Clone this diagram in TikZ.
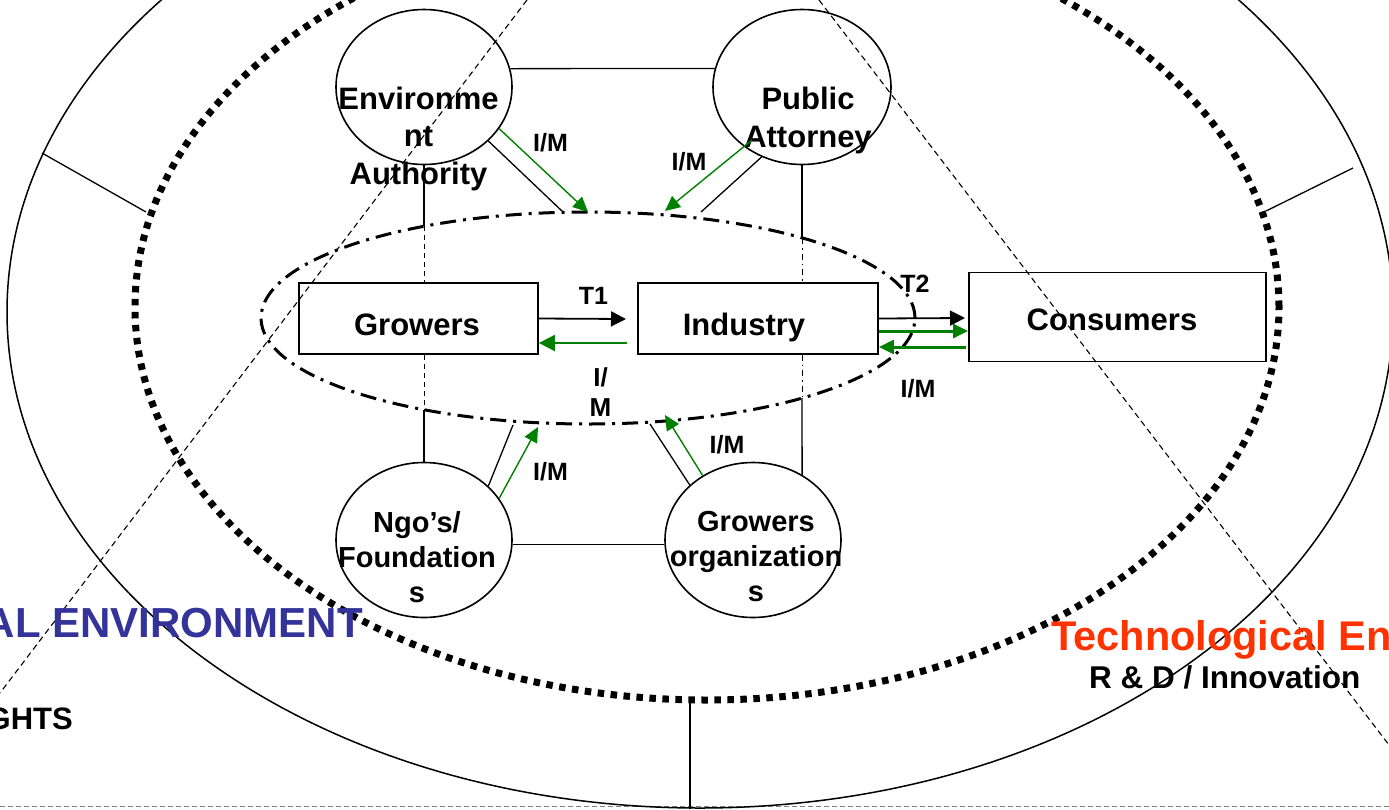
\documentclass[tikz,border=0pt]{standalone}
\usepackage{fontspec}
\setmainfont{Liberation Sans}
\usetikzlibrary{shapes.geometric,arrows.meta}
\definecolor{grn}{RGB}{0,128,0}
\definecolor{blu}{RGB}{51,51,153}
\definecolor{orn}{RGB}{255,51,0}
\begin{document}
\begin{tikzpicture}[x=1pt,y=-1pt,
  boxnode/.style={draw, line width=1.8pt, rectangle, inner sep=0pt},
  orb/.style={draw, ellipse, line width=1.6pt, inner sep=0pt, minimum width=176pt, minimum height=155pt},
  mainlbl/.style={font=\bfseries\fontsize{31}{37.5}\selectfont, inner sep=0pt, align=center},
  orblbl/.style={font=\bfseries\fontsize{29}{35}\selectfont, inner sep=0pt, align=center},
  smalllbl/.style={font=\bfseries\fontsize{25}{30}\selectfont, inner sep=0pt, align=center},
  thinline/.style={line width=1.3pt},
  garrow/.style={draw=grn, line width=1.4pt, -{Triangle[length=15pt,width=14pt]}},
  gthick/.style={draw=grn, line width=3pt, -{Triangle[length=15pt,width=14pt]}},
  barrow/.style={draw=black, line width=1.8pt, -{Triangle[length=15pt,width=15pt]}},
  diag/.style={line width=1.1pt, dash pattern=on 6pt off 4pt},
]
\useasboundingbox (0,0) rectangle (1389,809);
\clip (0,0) rectangle (1389,809);

% background lines
\draw[diag] (527,0) -- (0,693);
\draw[diag] (819,0) -- (1389,745);
\draw[line width=1pt, dash pattern=on 5pt off 3pt, gray] (0,806) -- (1389,806);

% outer ellipse and ticks
\draw[line width=1.5pt] (700,312) ellipse [x radius=693pt, y radius=496pt];
\coordinate (tL1) at (42,153);  \coordinate (tL2) at (146,212);
\coordinate (tR1) at (1353,168); \coordinate (tR2) at (1266,211);
\coordinate (tB1) at (690,703); \coordinate (tB2) at (690,809);
\draw[thinline] (tL1) -- (tL2);
\draw[thinline] (tR1) -- (tR2);
\draw[thinline] (tB1) -- (tB2);

% dotted ellipse
\draw[line width=7pt, dash pattern=on 6.5pt off 6.5pt] (707,307) ellipse [x radius=572pt, y radius=393pt];

% dash-dot ellipse
\draw[line width=3pt, dash pattern=on 16pt off 7pt on 3pt off 7pt] (588,318) ellipse [x radius=327pt, y radius=106pt];

% boxes
\node[boxnode, minimum width=239pt, minimum height=71pt] (Gr) at (418.5,318.5) {};
\node[boxnode, minimum width=240pt, minimum height=71pt] (Ind) at (758,318.5) {};
\node[boxnode, minimum width=297pt, minimum height=89pt] (Con) at (1117.5,317) {};
\node[mainlbl, anchor=base] (GrT) at (417,335) {Growers};
\node[mainlbl, anchor=base] (IndT) at (744,335) {Industry};
\node[mainlbl, anchor=base] (ConT) at (1112,330) {Consumers};

% circles
\node[orb] (EA) at (424,87) {};
\node[orb, minimum width=178pt] (PA) at (802,87) {};
\node[orb] (NGO) at (424,540) {};
\node[orb] (GO) at (753,540) {};
\node[mainlbl] (EAT) at (418.5,138.5) {Environme\\nt\\Authority};
\node[mainlbl] (PAT) at (808,120.7) {Public\\Attorney};
\node[orblbl] (NGOT) at (417,556.7) {Ngo’s/\\Foundation\\s};
\node[orblbl] (GOT) at (756,556.7) {Growers\\organization\\s};

% circle-circle links
\draw[thinline] (EA.12) -- (PA.168);
\draw[thinline] (NGO.-3) -- (GO.183);

% vertical links
\coordinate (eaIn) at (424,226);
\coordinate (ngIn) at (424,410);
\coordinate (paIn) at (802,238);
\coordinate (goIn) at (802,398);
\draw[thinline] (EA.south) -- (eaIn);
\draw[line width=1pt, dash pattern=on 5pt off 4pt] (eaIn) -- (eaIn |- Gr.north);
\draw[line width=1pt, dash pattern=on 5pt off 4pt] (Gr.south -| ngIn) -- (ngIn);
\draw[thinline] (ngIn) -- (NGO.north);
\draw[thinline] (PA.south) -- (paIn);
\draw[line width=1pt, dash pattern=on 6pt off 4pt on 1.5pt off 4pt] (paIn) -- (paIn |- Ind.north);
\draw[line width=1pt, dash pattern=on 6pt off 4pt on 1.5pt off 4pt] (Ind.south -| goIn) -- (goIn);
\draw[thinline] (goIn) -- (GO.53);

% diagonal pairs
\coordinate (eaB) at (563,212); \coordinate (eaG) at (588,212);
\coordinate (paG0) at (752,140); \coordinate (paG) at (665,211); \coordinate (paB) at (701,212);
\coordinate (ngB) at (513,425); \coordinate (ngG) at (538,427);
\coordinate (goB) at (650,424); \coordinate (goG) at (665,415);
\draw[thinline] (EA.-40) -- (eaB);
\draw[garrow] (EA.-29) -- (eaG);
\draw[thinline] (PA.240) -- (paB);
\draw[garrow] (paG0) -- (paG);
\draw[thinline] (NGO.40) -- (ngB);
\draw[garrow] (NGO.29) -- (ngG);
\draw[thinline] (GO.139) -- (goB);
\draw[garrow] (GO.128) -- (goG);

% horizontal arrows
\coordinate (t1e) at (626,319);
\coordinate (t1g) at (627,343);
\draw[barrow] (Gr.east) -- (t1e);
\draw[garrow, line width=2pt, -{Triangle[length=16pt,width=16pt]}] (t1g) -- (Gr.east |- t1g);
\coordinate (t2e) at (965,318);
\coordinate (g2a) at (880,331);
\coordinate (g2b) at (966,347);
\draw[barrow] (Ind.east) -- (t2e);
\draw[gthick] (Ind.east |- g2a) -- (Con.west |- g2a);
\draw[gthick] (g2b) -- (Ind.east |- g2b);

% labels
\node[smalllbl, anchor=base] (T1) at (593.5,304) {T1};
\node[smalllbl, anchor=base] (T2) at (915,292) {T2};
\node[smalllbl, font=\bfseries\fontsize{26}{30}\selectfont] (IMc) at (600.5,392.5) {I/\\M};
\node[smalllbl] (IM1) at (550.5,142.5) {I/M};
\node[smalllbl] (IM2) at (689,162) {I/M};
\node[smalllbl] (IM3) at (550.5,472) {I/M};
\node[smalllbl] (IM4) at (727,445) {I/M};
\node[smalllbl] (IM5) at (918,389) {I/M};

% environment texts
\node[inner sep=0pt, anchor=base east, text=blu, font=\bfseries\fontsize{42}{42}\selectfont] (polEnv) at (363,637) {AL ENVIRONMENT};
\node[inner sep=0pt, anchor=base east, font=\bfseries\fontsize{31}{31}\selectfont] (rights) at (73,729) {GHTS};
\node[inner sep=0pt, anchor=base west, text=orn, font=\bfseries\fontsize{41.5}{41.5}\selectfont] (techEnv) at (1051,650) {Technological En};
\node[inner sep=0pt, anchor=base west, font=\bfseries\fontsize{31.5}{31.5}\selectfont] (rnd) at (1089,688) {R \& D / Innovation};
\end{tikzpicture}
\end{document}
